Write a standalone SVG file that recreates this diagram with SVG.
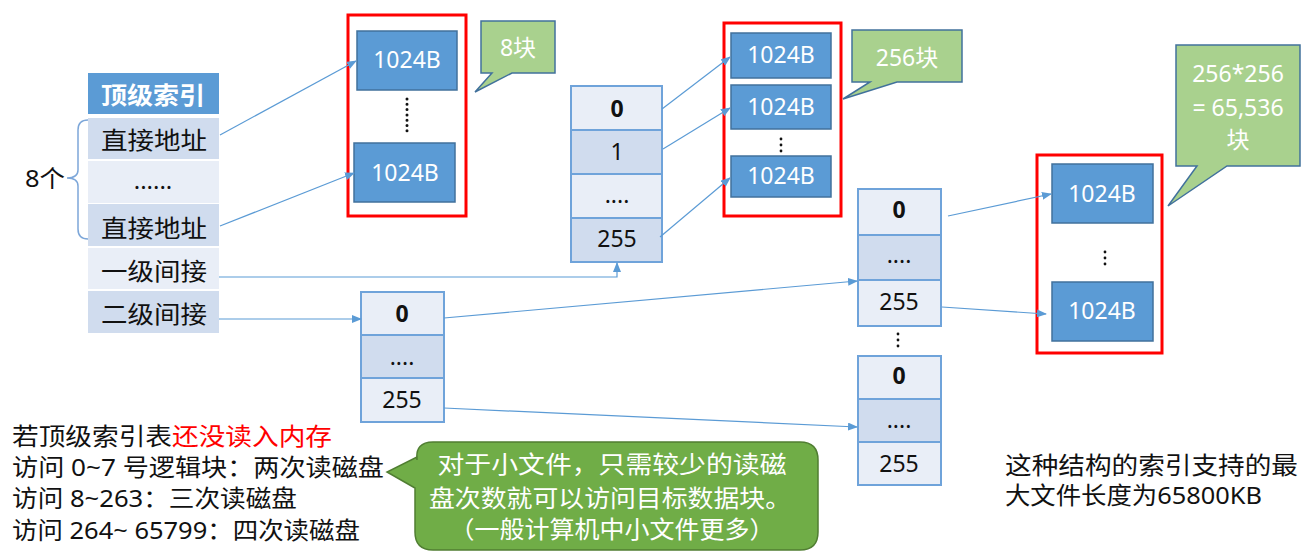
<svg xmlns="http://www.w3.org/2000/svg" width="1313" height="558" viewBox="0 0 1313 558">
<style>
text{font-family:"Noto Sans","Noto Sans CJK SC",sans-serif;}
.t{font-size:24px;fill:#111;}
.w{fill:#fff;}
.num{font-size:23px;fill:#111;text-anchor:middle;}
.b{font-weight:bold;}
.blk{fill:#5B9BD5;stroke:#41719C;stroke-width:1.5;}
.btx{font-size:23px;fill:#fff;text-anchor:middle;}
.red{fill:none;stroke:#FF0000;stroke-width:3;}
.lt{fill:#E9EEF7;stroke:#6FA3DA;stroke-width:2;}
.dk{fill:#D0DCEE;stroke:#6FA3DA;stroke-width:2;}
.call{fill:#A9D18E;stroke:#41719C;stroke-width:1.5;}
.con{fill:none;stroke:#5B9BD5;stroke-width:1.2;}
.dots{stroke:#111;stroke-width:3;stroke-linecap:round;}
.dot{fill:#111;}
</style>
<defs>
<marker id="ah" markerWidth="10" markerHeight="8" refX="9" refY="4" orient="auto" markerUnits="userSpaceOnUse">
<path d="M0,0 L10,4 L0,8 Z" fill="#5B9BD5"/>
</marker>
</defs>
<rect width="1313" height="558" fill="#fff"/>

<g id="top-index">
<rect x="88" y="73" width="131" height="41" fill="#5B9BD5"/>
<text x="153" y="104" class="t w b" text-anchor="middle" textLength="104" lengthAdjust="spacingAndGlyphs">顶级索引</text>
<rect x="88" y="118" width="131" height="41" fill="#D0DCEE"/>
<text x="154" y="149" class="t" text-anchor="middle" textLength="106" lengthAdjust="spacingAndGlyphs">直接地址</text>
<rect x="88" y="161" width="131" height="42" fill="#E9EEF7"/>
<text x="153" y="189" class="t" text-anchor="middle">......</text>
<rect x="88" y="204" width="131" height="42" fill="#D0DCEE"/>
<text x="154" y="237" class="t" text-anchor="middle" textLength="106" lengthAdjust="spacingAndGlyphs">直接地址</text>
<rect x="88" y="248" width="131" height="41" fill="#E9EEF7"/>
<text x="154" y="280" class="t" text-anchor="middle" textLength="106" lengthAdjust="spacingAndGlyphs">一级间接</text>
<rect x="88" y="291" width="131" height="42" fill="#D0DCEE"/>
<text x="154" y="323" class="t" text-anchor="middle" textLength="106" lengthAdjust="spacingAndGlyphs">二级间接</text>
</g>

<g id="brace-8">
<path d="M88,120 Q78,120 78,130 L78,170 Q78,178 67,178 Q78,178 78,186 L78,229 Q78,239 88,239" fill="none" stroke="#7DA7D9" stroke-width="1.5"/>
<text x="25" y="187" class="t" textLength="40" lengthAdjust="spacingAndGlyphs">8个</text>
</g>

<g id="direct-blocks">
<rect x="348" y="15" width="118" height="201" class="red"/>
<rect x="357" y="31" width="100" height="59" class="blk"/>
<text x="407" y="68" class="btx">1024B</text>
<line x1="407" y1="99" x2="407" y2="131" class="dots" stroke-dasharray="0 5.3"/>
<rect x="354" y="143" width="101" height="59" class="blk"/>
<text x="405" y="181" class="btx">1024B</text>
</g>

<g id="callout-8">
<path d="M481,21 H555 V73 H512 L475,92 L492,73 H481 Z" class="call"/>
<text x="518" y="56" class="btx" font-size="23">8块</text>
</g>

<g id="level1-index">
<rect x="571" y="86" width="91" height="44" class="lt"/>
<text x="617" y="117" class="num b">0</text>
<rect x="571" y="130" width="91" height="44" class="dk"/>
<text x="617" y="160" class="num">1</text>
<rect x="571" y="174" width="91" height="44" class="lt"/>
<text x="617" y="203" class="num">....</text>
<rect x="571" y="218" width="91" height="44" class="dk"/>
<text x="617" y="247" class="num">255</text>
</g>

<g id="level1-blocks">
<rect x="724" y="23" width="117" height="193" class="red"/>
<rect x="731" y="33" width="100" height="45" class="blk"/>
<text x="781" y="63" class="btx">1024B</text>
<rect x="731" y="85" width="100" height="44" class="blk"/>
<text x="781" y="115" class="btx">1024B</text>
<circle cx="781" cy="139" r="1.4" class="dot"/>
<circle cx="781" cy="145" r="1.4" class="dot"/>
<circle cx="781" cy="151" r="1.4" class="dot"/>
<rect x="731" y="156" width="100" height="41" class="blk"/>
<text x="781" y="184" class="btx">1024B</text>
</g>

<g id="callout-256">
<path d="M852,30 H962 V82 H897 L843,99 L870,82 H852 Z" class="call"/>
<text x="907" y="66" class="btx">256块</text>
</g>

<g id="level2-index">
<rect x="361" y="292" width="83" height="43" class="lt"/>
<text x="402" y="322" class="num b">0</text>
<rect x="361" y="335" width="83" height="43" class="dk"/>
<text x="402" y="365" class="num">....</text>
<rect x="361" y="378" width="83" height="44" class="lt"/>
<text x="402" y="408" class="num">255</text>
</g>

<g id="level2-sub-a">
<rect x="858" y="189" width="83" height="46" class="lt"/>
<text x="899" y="218" class="num b">0</text>
<rect x="858" y="235" width="83" height="45" class="dk"/>
<text x="899" y="263" class="num">....</text>
<rect x="858" y="280" width="83" height="46" class="lt"/>
<text x="899" y="310" class="num">255</text>
</g>

<g id="vdots-sub">
<circle cx="898" cy="334" r="1.4" class="dot"/>
<circle cx="898" cy="340" r="1.4" class="dot"/>
<circle cx="898" cy="346" r="1.4" class="dot"/>
</g>

<g id="level2-sub-b">
<rect x="858" y="356" width="83" height="43" class="lt"/>
<text x="899" y="384" class="num b">0</text>
<rect x="858" y="399" width="83" height="43" class="dk"/>
<text x="899" y="428" class="num">....</text>
<rect x="858" y="442" width="83" height="43" class="lt"/>
<text x="899" y="472" class="num">255</text>
</g>

<g id="level2-blocks">
<rect x="1037" y="155" width="125" height="198" class="red"/>
<rect x="1052" y="164" width="101" height="59" class="blk"/>
<text x="1102" y="202" class="btx">1024B</text>
<circle cx="1105" cy="252" r="1.4" class="dot"/>
<circle cx="1105" cy="258" r="1.4" class="dot"/>
<circle cx="1105" cy="264" r="1.4" class="dot"/>
<rect x="1052" y="282" width="101" height="59" class="blk"/>
<text x="1102" y="319" class="btx">1024B</text>
</g>

<g id="callout-65536">
<path d="M1176,45 H1300 V166 H1227 L1168,206 L1197,166 H1176 Z" class="call"/>
<text x="1238" y="82" class="btx" font-size="24">256*256</text>
<text x="1238" y="116" class="btx" font-size="24">= 65,536</text>
<text x="1238" y="148" class="btx" font-size="24">块</text>
</g>

<g id="connectors">
<line x1="220" y1="135" x2="356" y2="61" class="con" marker-end="url(#ah)"/>
<line x1="220" y1="226" x2="354" y2="173" class="con" marker-end="url(#ah)"/>
<polyline points="219,277 617,277 617,263" class="con" marker-end="url(#ah)"/>
<line x1="219" y1="319" x2="361" y2="319" class="con" marker-end="url(#ah)"/>
<line x1="662" y1="109" x2="730" y2="57" class="con" marker-end="url(#ah)"/>
<line x1="663" y1="149" x2="730" y2="108" class="con" marker-end="url(#ah)"/>
<line x1="660" y1="237" x2="730" y2="178" class="con" marker-end="url(#ah)"/>
<line x1="444" y1="318" x2="857" y2="281" class="con" marker-end="url(#ah)"/>
<line x1="444" y1="408" x2="857" y2="427" class="con" marker-end="url(#ah)"/>
<line x1="948" y1="216" x2="1051" y2="194" class="con" marker-end="url(#ah)"/>
<line x1="942" y1="307" x2="1046" y2="314" class="con" marker-end="url(#ah)"/>
</g>

<g id="notes-left">
<text x="12" y="445" class="t" textLength="160" lengthAdjust="spacingAndGlyphs">若顶级索引表</text>
<text x="172" y="445" class="t" style="fill:#FF0000" textLength="160" lengthAdjust="spacingAndGlyphs">还没读入内存</text>
<text x="12" y="476" class="t" textLength="372" lengthAdjust="spacingAndGlyphs">访问 0~7 号逻辑块：两次读磁盘</text>
<text x="12" y="507" class="t" textLength="285" lengthAdjust="spacingAndGlyphs">访问 8~263：三次读磁盘</text>
<text x="12" y="539" class="t" textLength="348" lengthAdjust="spacingAndGlyphs">访问 264~ 65799：四次读磁盘</text>
</g>

<g id="callout-small-files">
<path d="M433,442 H800 Q818,442 818,460 V532 Q818,550 800,550 H433 Q415,550 415,532 V488 L387,472 L417,457 V460 Q415,442 433,442 Z" fill="#70AD47" stroke="#507E32" stroke-width="1.5"/>
<text x="612" y="473" class="t w" text-anchor="middle" textLength="349" lengthAdjust="spacingAndGlyphs">对于小文件，只需较少的读磁</text>
<text x="610" y="507" class="t w" text-anchor="middle" textLength="362" lengthAdjust="spacingAndGlyphs">盘次数就可以访问目标数据块。</text>
<text x="612" y="538" class="t w" text-anchor="middle" textLength="325" lengthAdjust="spacingAndGlyphs">（一般计算机中小文件更多）</text>
</g>

<g id="notes-right">
<text x="1005" y="474" class="t" textLength="293" lengthAdjust="spacingAndGlyphs">这种结构的索引支持的最</text>
<text x="1005" y="504" class="t" textLength="257" lengthAdjust="spacingAndGlyphs">大文件长度为65800KB</text>
</g>
</svg>
